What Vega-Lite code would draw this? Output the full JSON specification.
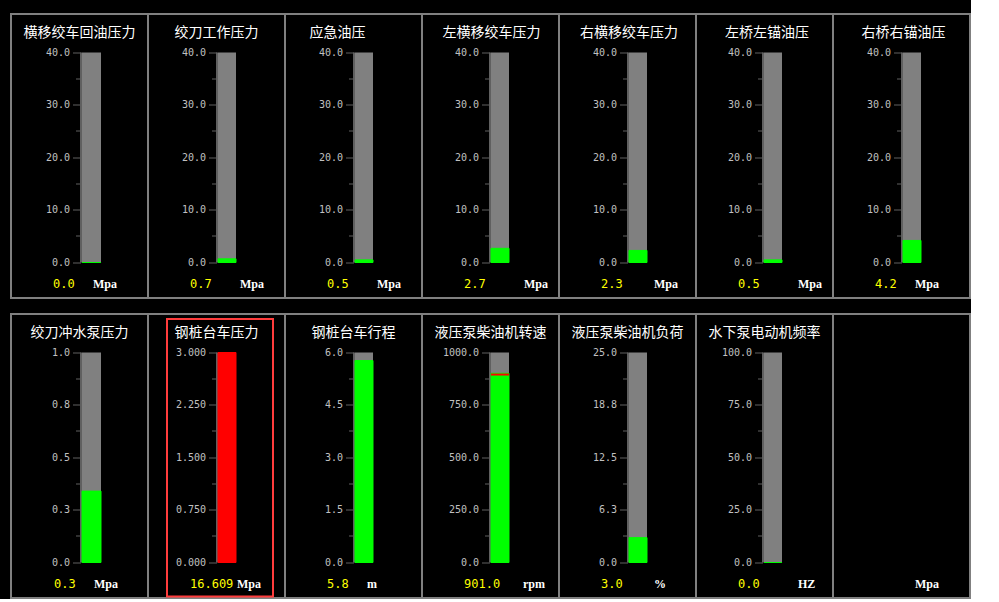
{
  "$schema": "https://vega.github.io/schema/vega-lite/v6.json",
  "background": "#000000",
  "padding": {"left": 10, "top": 13, "right": 0, "bottom": 0},
  "data": {"values": [
    {"name": "横移绞车回油压力", "value": 0.0, "max": 40, "unit": "Mpa"},
    {"name": "绞刀工作压力", "value": 0.7, "max": 40, "unit": "Mpa"},
    {"name": "应急油压", "value": 0.5, "max": 40, "unit": "Mpa"},
    {"name": "左横移绞车压力", "value": 2.7, "max": 40, "unit": "Mpa"},
    {"name": "右横移绞车压力", "value": 2.3, "max": 40, "unit": "Mpa"},
    {"name": "左桥左锚油压", "value": 0.5, "max": 40, "unit": "Mpa"},
    {"name": "右桥右锚油压", "value": 4.2, "max": 40, "unit": "Mpa"},
    {"name": "绞刀冲水泵压力", "value": 0.34, "max": 1, "unit": "Mpa"},
    {"name": "钢桩台车压力", "value": 16.609, "max": 3, "unit": "Mpa"},
    {"name": "钢桩台车行程", "value": 5.77, "max": 6, "unit": "m"},
    {"name": "液压泵柴油机转速", "value": 901.0, "max": 1000, "unit": "rpm", "limit": 895},
    {"name": "液压泵柴油机负荷", "value": 2.96, "max": 25, "unit": "%"},
    {"name": "水下泵电动机频率", "value": 0.0, "max": 100, "unit": "HZ"},
    {"name": "备用", "unit": "Mpa"}
  ]},
  "columns": 7,
  "spacing": {"row": 16, "column": 0},
  "bounds": "flush",
  "concat": [
    {
      "width": 137, "height": 284,
      "title": {"text": "横移绞车回油压力", "dx": 0},
      "transform": [{"filter": {"field": "name", "equal": "横移绞车回油压力"}}],
      "resolve": {"scale": {"x": "independent", "y": "independent"}, "axis": {"x": "independent", "y": "independent"}},
      "layer": [
        {"mark": {"type": "bar", "color": "#808080"},
         "encoding": {
           "x": {"field": "name", "type": "nominal", "scale": {"range": [71, 90], "paddingInner": 0, "paddingOuter": 0}, "axis": null},
           "y": {"field": "max", "type": "quantitative", "scale": {"domain": [0, 40], "range": [248.5, 38.5], "nice": false}, "axis": {"orient": "left", "offset": -70, "values": [5, 15, 25, 35], "labels": false, "domain": false, "tickSize": 5, "title": null}}}},
        {"encoding": {"x": {"field": "name", "type": "nominal", "scale": {"range": [71, 90], "paddingInner": 0, "paddingOuter": 0}, "axis": null}},
         "layer": [
           {"mark": {"type": "bar", "strokeWidth": 1},
            "encoding": {
              "y": {"field": "value", "type": "quantitative", "scale": {"domain": [0, 40], "range": [248.5, 38.5], "clamp": true, "nice": false}, "axis": {"orient": "left", "offset": -70, "values": [0, 10, 20, 30, 40], "format": ".1f", "title": null}},
              "color": {"condition": {"test": "datum.value > datum.max", "value": "#ff0000"}, "value": "#00ff00"},
              "stroke": {"condition": {"test": "datum.value > datum.max", "value": "#ff0000"}, "value": "#00ff00"}}},
           {"mark": {"type": "text", "align": "left", "baseline": "middle", "color": "#ffff00", "dx": -38.5, "dy": 21},
            "encoding": {"y": {"datum": 0}, "text": {"field": "value", "type": "quantitative", "format": ".1f"}}},
           {"mark": {"type": "text", "align": "left", "baseline": "middle", "color": "#ffffff", "font": "Liberation Serif", "fontSize": 12, "fontWeight": "bold", "dx": 1.5, "dy": 21},
            "encoding": {"y": {"datum": 0}, "text": {"field": "unit"}}}
         ]}
      ]
    },
    {
      "width": 137, "height": 284,
      "title": {"text": "绞刀工作压力", "dx": 0},
      "transform": [{"filter": {"field": "name", "equal": "绞刀工作压力"}}],
      "resolve": {"scale": {"x": "independent", "y": "independent"}, "axis": {"x": "independent", "y": "independent"}},
      "layer": [
        {"mark": {"type": "bar", "color": "#808080"},
         "encoding": {
           "x": {"field": "name", "type": "nominal", "scale": {"range": [70, 88], "paddingInner": 0, "paddingOuter": 0}, "axis": null},
           "y": {"field": "max", "type": "quantitative", "scale": {"domain": [0, 40], "range": [248.5, 38.5], "nice": false}, "axis": {"orient": "left", "offset": -69, "values": [5, 15, 25, 35], "labels": false, "domain": false, "tickSize": 5, "title": null}}}},
        {"encoding": {"x": {"field": "name", "type": "nominal", "scale": {"range": [70, 88], "paddingInner": 0, "paddingOuter": 0}, "axis": null}},
         "layer": [
           {"mark": {"type": "bar", "strokeWidth": 1},
            "encoding": {
              "y": {"field": "value", "type": "quantitative", "scale": {"domain": [0, 40], "range": [248.5, 38.5], "clamp": true, "nice": false}, "axis": {"orient": "left", "offset": -69, "values": [0, 10, 20, 30, 40], "format": ".1f", "title": null}},
              "color": {"condition": {"test": "datum.value > datum.max", "value": "#ff0000"}, "value": "#00ff00"},
              "stroke": {"condition": {"test": "datum.value > datum.max", "value": "#ff0000"}, "value": "#00ff00"}}},
           {"mark": {"type": "text", "align": "left", "baseline": "middle", "color": "#ffff00", "dx": -37, "dy": 21},
            "encoding": {"y": {"datum": 0}, "text": {"field": "value", "type": "quantitative", "format": ".1f"}}},
           {"mark": {"type": "text", "align": "left", "baseline": "middle", "color": "#ffffff", "font": "Liberation Serif", "fontSize": 12, "fontWeight": "bold", "dx": 13, "dy": 21},
            "encoding": {"y": {"datum": 0}, "text": {"field": "unit"}}}
         ]}
      ]
    },
    {
      "width": 137, "height": 284,
      "title": {"text": "应急油压", "dx": -16},
      "transform": [{"filter": {"field": "name", "equal": "应急油压"}}],
      "resolve": {"scale": {"x": "independent", "y": "independent"}, "axis": {"x": "independent", "y": "independent"}},
      "layer": [
        {"mark": {"type": "bar", "color": "#808080"},
         "encoding": {
           "x": {"field": "name", "type": "nominal", "scale": {"range": [70, 88], "paddingInner": 0, "paddingOuter": 0}, "axis": null},
           "y": {"field": "max", "type": "quantitative", "scale": {"domain": [0, 40], "range": [248.5, 38.5], "nice": false}, "axis": {"orient": "left", "offset": -69, "values": [5, 15, 25, 35], "labels": false, "domain": false, "tickSize": 5, "title": null}}}},
        {"encoding": {"x": {"field": "name", "type": "nominal", "scale": {"range": [70, 88], "paddingInner": 0, "paddingOuter": 0}, "axis": null}},
         "layer": [
           {"mark": {"type": "bar", "strokeWidth": 1},
            "encoding": {
              "y": {"field": "value", "type": "quantitative", "scale": {"domain": [0, 40], "range": [248.5, 38.5], "clamp": true, "nice": false}, "axis": {"orient": "left", "offset": -69, "values": [0, 10, 20, 30, 40], "format": ".1f", "title": null}},
              "color": {"condition": {"test": "datum.value > datum.max", "value": "#ff0000"}, "value": "#00ff00"},
              "stroke": {"condition": {"test": "datum.value > datum.max", "value": "#ff0000"}, "value": "#00ff00"}}},
           {"mark": {"type": "text", "align": "left", "baseline": "middle", "color": "#ffff00", "dx": -37, "dy": 21},
            "encoding": {"y": {"datum": 0}, "text": {"field": "value", "type": "quantitative", "format": ".1f"}}},
           {"mark": {"type": "text", "align": "left", "baseline": "middle", "color": "#ffffff", "font": "Liberation Serif", "fontSize": 12, "fontWeight": "bold", "dx": 13, "dy": 21},
            "encoding": {"y": {"datum": 0}, "text": {"field": "unit"}}}
         ]}
      ]
    },
    {
      "width": 137, "height": 284,
      "title": {"text": "左横移绞车压力", "dx": 1},
      "transform": [{"filter": {"field": "name", "equal": "左横移绞车压力"}}],
      "resolve": {"scale": {"x": "independent", "y": "independent"}, "axis": {"x": "independent", "y": "independent"}},
      "layer": [
        {"mark": {"type": "bar", "color": "#808080"},
         "encoding": {
           "x": {"field": "name", "type": "nominal", "scale": {"range": [69, 87], "paddingInner": 0, "paddingOuter": 0}, "axis": null},
           "y": {"field": "max", "type": "quantitative", "scale": {"domain": [0, 40], "range": [248.5, 38.5], "nice": false}, "axis": {"orient": "left", "offset": -68, "values": [5, 15, 25, 35], "labels": false, "domain": false, "tickSize": 5, "title": null}}}},
        {"encoding": {"x": {"field": "name", "type": "nominal", "scale": {"range": [69, 87], "paddingInner": 0, "paddingOuter": 0}, "axis": null}},
         "layer": [
           {"mark": {"type": "bar", "strokeWidth": 1},
            "encoding": {
              "y": {"field": "value", "type": "quantitative", "scale": {"domain": [0, 40], "range": [248.5, 38.5], "clamp": true, "nice": false}, "axis": {"orient": "left", "offset": -68, "values": [0, 10, 20, 30, 40], "format": ".1f", "title": null}},
              "color": {"condition": {"test": "datum.value > datum.max", "value": "#ff0000"}, "value": "#00ff00"},
              "stroke": {"condition": {"test": "datum.value > datum.max", "value": "#ff0000"}, "value": "#00ff00"}}},
           {"mark": {"type": "text", "align": "left", "baseline": "middle", "color": "#ffff00", "dx": -36, "dy": 21},
            "encoding": {"y": {"datum": 0}, "text": {"field": "value", "type": "quantitative", "format": ".1f"}}},
           {"mark": {"type": "text", "align": "left", "baseline": "middle", "color": "#ffffff", "font": "Liberation Serif", "fontSize": 12, "fontWeight": "bold", "dx": 24, "dy": 21},
            "encoding": {"y": {"datum": 0}, "text": {"field": "unit"}}}
         ]}
      ]
    },
    {
      "width": 137, "height": 284,
      "title": {"text": "右横移绞车压力", "dx": 1.5},
      "transform": [{"filter": {"field": "name", "equal": "右横移绞车压力"}}],
      "resolve": {"scale": {"x": "independent", "y": "independent"}, "axis": {"x": "independent", "y": "independent"}},
      "layer": [
        {"mark": {"type": "bar", "color": "#808080"},
         "encoding": {
           "x": {"field": "name", "type": "nominal", "scale": {"range": [70, 88], "paddingInner": 0, "paddingOuter": 0}, "axis": null},
           "y": {"field": "max", "type": "quantitative", "scale": {"domain": [0, 40], "range": [248.5, 38.5], "nice": false}, "axis": {"orient": "left", "offset": -69, "values": [5, 15, 25, 35], "labels": false, "domain": false, "tickSize": 5, "title": null}}}},
        {"encoding": {"x": {"field": "name", "type": "nominal", "scale": {"range": [70, 88], "paddingInner": 0, "paddingOuter": 0}, "axis": null}},
         "layer": [
           {"mark": {"type": "bar", "strokeWidth": 1},
            "encoding": {
              "y": {"field": "value", "type": "quantitative", "scale": {"domain": [0, 40], "range": [248.5, 38.5], "clamp": true, "nice": false}, "axis": {"orient": "left", "offset": -69, "values": [0, 10, 20, 30, 40], "format": ".1f", "title": null}},
              "color": {"condition": {"test": "datum.value > datum.max", "value": "#ff0000"}, "value": "#00ff00"},
              "stroke": {"condition": {"test": "datum.value > datum.max", "value": "#ff0000"}, "value": "#00ff00"}}},
           {"mark": {"type": "text", "align": "left", "baseline": "middle", "color": "#ffff00", "dx": -37, "dy": 21},
            "encoding": {"y": {"datum": 0}, "text": {"field": "value", "type": "quantitative", "format": ".1f"}}},
           {"mark": {"type": "text", "align": "left", "baseline": "middle", "color": "#ffffff", "font": "Liberation Serif", "fontSize": 12, "fontWeight": "bold", "dx": 16, "dy": 21},
            "encoding": {"y": {"datum": 0}, "text": {"field": "unit"}}}
         ]}
      ]
    },
    {
      "width": 137, "height": 284,
      "title": {"text": "左桥左锚油压", "dx": 2.5},
      "transform": [{"filter": {"field": "name", "equal": "左桥左锚油压"}}],
      "resolve": {"scale": {"x": "independent", "y": "independent"}, "axis": {"x": "independent", "y": "independent"}},
      "layer": [
        {"mark": {"type": "bar", "color": "#808080"},
         "encoding": {
           "x": {"field": "name", "type": "nominal", "scale": {"range": [68, 86], "paddingInner": 0, "paddingOuter": 0}, "axis": null},
           "y": {"field": "max", "type": "quantitative", "scale": {"domain": [0, 40], "range": [248.5, 38.5], "nice": false}, "axis": {"orient": "left", "offset": -67, "values": [5, 15, 25, 35], "labels": false, "domain": false, "tickSize": 5, "title": null}}}},
        {"encoding": {"x": {"field": "name", "type": "nominal", "scale": {"range": [68, 86], "paddingInner": 0, "paddingOuter": 0}, "axis": null}},
         "layer": [
           {"mark": {"type": "bar", "strokeWidth": 1},
            "encoding": {
              "y": {"field": "value", "type": "quantitative", "scale": {"domain": [0, 40], "range": [248.5, 38.5], "clamp": true, "nice": false}, "axis": {"orient": "left", "offset": -67, "values": [0, 10, 20, 30, 40], "format": ".1f", "title": null}},
              "color": {"condition": {"test": "datum.value > datum.max", "value": "#ff0000"}, "value": "#00ff00"},
              "stroke": {"condition": {"test": "datum.value > datum.max", "value": "#ff0000"}, "value": "#00ff00"}}},
           {"mark": {"type": "text", "align": "left", "baseline": "middle", "color": "#ffff00", "dx": -35, "dy": 21},
            "encoding": {"y": {"datum": 0}, "text": {"field": "value", "type": "quantitative", "format": ".1f"}}},
           {"mark": {"type": "text", "align": "left", "baseline": "middle", "color": "#ffffff", "font": "Liberation Serif", "fontSize": 12, "fontWeight": "bold", "dx": 25, "dy": 21},
            "encoding": {"y": {"datum": 0}, "text": {"field": "unit"}}}
         ]}
      ]
    },
    {
      "width": 137, "height": 284,
      "title": {"text": "右桥右锚油压", "dx": 2},
      "transform": [{"filter": {"field": "name", "equal": "右桥右锚油压"}}],
      "resolve": {"scale": {"x": "independent", "y": "independent"}, "axis": {"x": "independent", "y": "independent"}},
      "layer": [
        {"mark": {"type": "bar", "color": "#808080"},
         "encoding": {
           "x": {"field": "name", "type": "nominal", "scale": {"range": [70, 88], "paddingInner": 0, "paddingOuter": 0}, "axis": null},
           "y": {"field": "max", "type": "quantitative", "scale": {"domain": [0, 40], "range": [248.5, 38.5], "nice": false}, "axis": {"orient": "left", "offset": -69, "values": [5, 15, 25, 35], "labels": false, "domain": false, "tickSize": 5, "title": null}}}},
        {"encoding": {"x": {"field": "name", "type": "nominal", "scale": {"range": [70, 88], "paddingInner": 0, "paddingOuter": 0}, "axis": null}},
         "layer": [
           {"mark": {"type": "bar", "strokeWidth": 1},
            "encoding": {
              "y": {"field": "value", "type": "quantitative", "scale": {"domain": [0, 40], "range": [248.5, 38.5], "clamp": true, "nice": false}, "axis": {"orient": "left", "offset": -69, "values": [0, 10, 20, 30, 40], "format": ".1f", "title": null}},
              "color": {"condition": {"test": "datum.value > datum.max", "value": "#ff0000"}, "value": "#00ff00"},
              "stroke": {"condition": {"test": "datum.value > datum.max", "value": "#ff0000"}, "value": "#00ff00"}}},
           {"mark": {"type": "text", "align": "left", "baseline": "middle", "color": "#ffff00", "dx": -37, "dy": 21},
            "encoding": {"y": {"datum": 0}, "text": {"field": "value", "type": "quantitative", "format": ".1f"}}},
           {"mark": {"type": "text", "align": "left", "baseline": "middle", "color": "#ffffff", "font": "Liberation Serif", "fontSize": 12, "fontWeight": "bold", "dx": 3, "dy": 21},
            "encoding": {"y": {"datum": 0}, "text": {"field": "unit"}}}
         ]}
      ]
    },
    {
      "width": 137, "height": 284,
      "title": {"text": "绞刀冲水泵压力", "dx": 0},
      "transform": [{"filter": {"field": "name", "equal": "绞刀冲水泵压力"}}],
      "resolve": {"scale": {"x": "independent", "y": "independent"}, "axis": {"x": "independent", "y": "independent"}},
      "layer": [
        {"mark": {"type": "bar", "color": "#808080"},
         "encoding": {
           "x": {"field": "name", "type": "nominal", "scale": {"range": [71, 90], "paddingInner": 0, "paddingOuter": 0}, "axis": null},
           "y": {"field": "max", "type": "quantitative", "scale": {"domain": [0, 1], "range": [248.5, 38.5], "nice": false}, "axis": {"orient": "left", "offset": -70, "values": [0.125, 0.375, 0.625, 0.875], "labels": false, "domain": false, "tickSize": 5, "title": null}}}},
        {"encoding": {"x": {"field": "name", "type": "nominal", "scale": {"range": [71, 90], "paddingInner": 0, "paddingOuter": 0}, "axis": null}},
         "layer": [
           {"mark": {"type": "bar", "strokeWidth": 1},
            "encoding": {
              "y": {"field": "value", "type": "quantitative", "scale": {"domain": [0, 1], "range": [248.5, 38.5], "clamp": true, "nice": false}, "axis": {"orient": "left", "offset": -70, "values": [0, 0.25, 0.5, 0.75, 1], "format": ".1f", "title": null}},
              "color": {"condition": {"test": "datum.value > datum.max", "value": "#ff0000"}, "value": "#00ff00"},
              "stroke": {"condition": {"test": "datum.value > datum.max", "value": "#ff0000"}, "value": "#00ff00"}}},
           {"mark": {"type": "text", "align": "left", "baseline": "middle", "color": "#ffff00", "dx": -37.5, "dy": 21},
            "encoding": {"y": {"datum": 0}, "text": {"field": "value", "type": "quantitative", "format": ".1f"}}},
           {"mark": {"type": "text", "align": "left", "baseline": "middle", "color": "#ffffff", "font": "Liberation Serif", "fontSize": 12, "fontWeight": "bold", "dx": 2.5, "dy": 21},
            "encoding": {"y": {"datum": 0}, "text": {"field": "unit"}}}
         ]}
      ]
    },
    {
      "width": 137, "height": 284,
      "title": {"text": "钢桩台车压力", "dx": 0},
      "transform": [{"filter": {"field": "name", "equal": "钢桩台车压力"}}],
      "resolve": {"scale": {"x": "independent", "y": "independent"}, "axis": {"x": "independent", "y": "independent"}},
      "layer": [
        {"mark": {"type": "bar", "color": "#808080"},
         "encoding": {
           "x": {"field": "name", "type": "nominal", "scale": {"range": [70, 88], "paddingInner": 0, "paddingOuter": 0}, "axis": null},
           "y": {"field": "max", "type": "quantitative", "scale": {"domain": [0, 3], "range": [248.5, 38.5], "nice": false}, "axis": {"orient": "left", "offset": -69, "values": [0.375, 1.125, 1.875, 2.625], "labels": false, "domain": false, "tickSize": 5, "title": null}}}},
        {"encoding": {"x": {"field": "name", "type": "nominal", "scale": {"range": [70, 88], "paddingInner": 0, "paddingOuter": 0}, "axis": null}},
         "layer": [
           {"mark": {"type": "bar", "strokeWidth": 1},
            "encoding": {
              "y": {"field": "value", "type": "quantitative", "scale": {"domain": [0, 3], "range": [248.5, 38.5], "clamp": true, "nice": false}, "axis": {"orient": "left", "offset": -69, "values": [0, 0.75, 1.5, 2.25, 3], "format": ".3f", "title": null}},
              "color": {"condition": {"test": "datum.value > datum.max", "value": "#ff0000"}, "value": "#00ff00"},
              "stroke": {"condition": {"test": "datum.value > datum.max", "value": "#ff0000"}, "value": "#00ff00"}}},
           {"mark": {"type": "text", "align": "left", "baseline": "middle", "color": "#ffff00", "dx": -37, "dy": 21},
            "encoding": {"y": {"datum": 0}, "text": {"field": "value", "type": "quantitative", "format": ".3f"}}},
           {"mark": {"type": "text", "align": "left", "baseline": "middle", "color": "#ffffff", "font": "Liberation Serif", "fontSize": 12, "fontWeight": "bold", "dx": 10, "dy": 21},
            "encoding": {"y": {"datum": 0}, "text": {"field": "unit"}}}
         ]},
        {"mark": {"type": "rect", "filled": false, "stroke": "#ff3c3c", "strokeWidth": 2},
         "encoding": {
           "x": {"datum": 0, "type": "quantitative", "scale": {"domain": [0, 1], "range": [19, 125], "nice": false}, "axis": null},
           "x2": {"datum": 1},
           "y": {"datum": 0, "type": "quantitative", "scale": {"domain": [0, 1], "range": [282.5, 5], "nice": false}, "axis": null},
           "y2": {"datum": 1}}}
      ]
    },
    {
      "width": 137, "height": 284,
      "title": {"text": "钢桩台车行程", "dx": 0},
      "transform": [{"filter": {"field": "name", "equal": "钢桩台车行程"}}],
      "resolve": {"scale": {"x": "independent", "y": "independent"}, "axis": {"x": "independent", "y": "independent"}},
      "layer": [
        {"mark": {"type": "bar", "color": "#808080"},
         "encoding": {
           "x": {"field": "name", "type": "nominal", "scale": {"range": [70, 88], "paddingInner": 0, "paddingOuter": 0}, "axis": null},
           "y": {"field": "max", "type": "quantitative", "scale": {"domain": [0, 6], "range": [248.5, 38.5], "nice": false}, "axis": {"orient": "left", "offset": -69, "values": [0.75, 2.25, 3.75, 5.25], "labels": false, "domain": false, "tickSize": 5, "title": null}}}},
        {"encoding": {"x": {"field": "name", "type": "nominal", "scale": {"range": [70, 88], "paddingInner": 0, "paddingOuter": 0}, "axis": null}},
         "layer": [
           {"mark": {"type": "bar", "strokeWidth": 1},
            "encoding": {
              "y": {"field": "value", "type": "quantitative", "scale": {"domain": [0, 6], "range": [248.5, 38.5], "clamp": true, "nice": false}, "axis": {"orient": "left", "offset": -69, "values": [0, 1.5, 3, 4.5, 6], "format": ".1f", "title": null}},
              "color": {"condition": {"test": "datum.value > datum.max", "value": "#ff0000"}, "value": "#00ff00"},
              "stroke": {"condition": {"test": "datum.value > datum.max", "value": "#ff0000"}, "value": "#00ff00"}}},
           {"mark": {"type": "text", "align": "left", "baseline": "middle", "color": "#ffff00", "dx": -37, "dy": 21},
            "encoding": {"y": {"datum": 0}, "text": {"field": "value", "type": "quantitative", "format": ".1f"}}},
           {"mark": {"type": "text", "align": "left", "baseline": "middle", "color": "#ffffff", "font": "Liberation Serif", "fontSize": 12, "fontWeight": "bold", "dx": 3, "dy": 21},
            "encoding": {"y": {"datum": 0}, "text": {"field": "unit"}}}
         ]}
      ]
    },
    {
      "width": 137, "height": 284,
      "title": {"text": "液压泵柴油机转速", "dx": 0},
      "transform": [{"filter": {"field": "name", "equal": "液压泵柴油机转速"}}],
      "resolve": {"scale": {"x": "independent", "y": "independent"}, "axis": {"x": "independent", "y": "independent"}},
      "layer": [
        {"mark": {"type": "bar", "color": "#808080"},
         "encoding": {
           "x": {"field": "name", "type": "nominal", "scale": {"range": [69, 87], "paddingInner": 0, "paddingOuter": 0}, "axis": null},
           "y": {"field": "max", "type": "quantitative", "scale": {"domain": [0, 1000], "range": [248.5, 38.5], "nice": false}, "axis": {"orient": "left", "offset": -68, "values": [125, 375, 625, 875], "labels": false, "domain": false, "tickSize": 5, "title": null}}}},
        {"encoding": {"x": {"field": "name", "type": "nominal", "scale": {"range": [69, 87], "paddingInner": 0, "paddingOuter": 0}, "axis": null}},
         "layer": [
           {"mark": {"type": "bar", "strokeWidth": 1},
            "encoding": {
              "y": {"field": "value", "type": "quantitative", "scale": {"domain": [0, 1000], "range": [248.5, 38.5], "clamp": true, "nice": false}, "axis": {"orient": "left", "offset": -68, "values": [0, 250, 500, 750, 1000], "format": ".1f", "title": null}},
              "color": {"condition": {"test": "datum.value > datum.max", "value": "#ff0000"}, "value": "#00ff00"},
              "stroke": {"condition": {"test": "datum.value > datum.max", "value": "#ff0000"}, "value": "#00ff00"}}},
           {"mark": {"type": "tick", "color": "#ff0000", "opacity": 1, "thickness": 2, "size": 18, "orient": "horizontal"},
            "encoding": {"y": {"field": "limit", "type": "quantitative"}}},
           {"mark": {"type": "text", "align": "left", "baseline": "middle", "color": "#ffff00", "dx": -36, "dy": 21},
            "encoding": {"y": {"datum": 0}, "text": {"field": "value", "type": "quantitative", "format": ".1f"}}},
           {"mark": {"type": "text", "align": "left", "baseline": "middle", "color": "#ffffff", "font": "Liberation Serif", "fontSize": 12, "fontWeight": "bold", "dx": 23, "dy": 21},
            "encoding": {"y": {"datum": 0}, "text": {"field": "unit"}}}
         ]}
      ]
    },
    {
      "width": 137, "height": 284,
      "title": {"text": "液压泵柴油机负荷", "dx": 0},
      "transform": [{"filter": {"field": "name", "equal": "液压泵柴油机负荷"}}],
      "resolve": {"scale": {"x": "independent", "y": "independent"}, "axis": {"x": "independent", "y": "independent"}},
      "layer": [
        {"mark": {"type": "bar", "color": "#808080"},
         "encoding": {
           "x": {"field": "name", "type": "nominal", "scale": {"range": [70, 88], "paddingInner": 0, "paddingOuter": 0}, "axis": null},
           "y": {"field": "max", "type": "quantitative", "scale": {"domain": [0, 25], "range": [248.5, 38.5], "nice": false}, "axis": {"orient": "left", "offset": -69, "values": [3.125, 9.375, 15.625, 21.875], "labels": false, "domain": false, "tickSize": 5, "title": null}}}},
        {"encoding": {"x": {"field": "name", "type": "nominal", "scale": {"range": [70, 88], "paddingInner": 0, "paddingOuter": 0}, "axis": null}},
         "layer": [
           {"mark": {"type": "bar", "strokeWidth": 1},
            "encoding": {
              "y": {"field": "value", "type": "quantitative", "scale": {"domain": [0, 25], "range": [248.5, 38.5], "clamp": true, "nice": false}, "axis": {"orient": "left", "offset": -69, "values": [0, 6.25, 12.5, 18.75, 25], "format": ".1f", "title": null}},
              "color": {"condition": {"test": "datum.value > datum.max", "value": "#ff0000"}, "value": "#00ff00"},
              "stroke": {"condition": {"test": "datum.value > datum.max", "value": "#ff0000"}, "value": "#00ff00"}}},
           {"mark": {"type": "text", "align": "left", "baseline": "middle", "color": "#ffff00", "dx": -37, "dy": 21},
            "encoding": {"y": {"datum": 0}, "text": {"field": "value", "type": "quantitative", "format": ".1f"}}},
           {"mark": {"type": "text", "align": "left", "baseline": "middle", "color": "#ffffff", "font": "Liberation Serif", "fontSize": 12, "fontWeight": "bold", "dx": 16, "dy": 21},
            "encoding": {"y": {"datum": 0}, "text": {"field": "unit"}}}
         ]}
      ]
    },
    {
      "width": 137, "height": 284,
      "title": {"text": "水下泵电动机频率", "dx": 0},
      "transform": [{"filter": {"field": "name", "equal": "水下泵电动机频率"}}],
      "resolve": {"scale": {"x": "independent", "y": "independent"}, "axis": {"x": "independent", "y": "independent"}},
      "layer": [
        {"mark": {"type": "bar", "color": "#808080"},
         "encoding": {
           "x": {"field": "name", "type": "nominal", "scale": {"range": [68, 86], "paddingInner": 0, "paddingOuter": 0}, "axis": null},
           "y": {"field": "max", "type": "quantitative", "scale": {"domain": [0, 100], "range": [248.5, 38.5], "nice": false}, "axis": {"orient": "left", "offset": -67, "values": [12.5, 37.5, 62.5, 87.5], "labels": false, "domain": false, "tickSize": 5, "title": null}}}},
        {"encoding": {"x": {"field": "name", "type": "nominal", "scale": {"range": [68, 86], "paddingInner": 0, "paddingOuter": 0}, "axis": null}},
         "layer": [
           {"mark": {"type": "bar", "strokeWidth": 1},
            "encoding": {
              "y": {"field": "value", "type": "quantitative", "scale": {"domain": [0, 100], "range": [248.5, 38.5], "clamp": true, "nice": false}, "axis": {"orient": "left", "offset": -67, "values": [0, 25, 50, 75, 100], "format": ".1f", "title": null}},
              "color": {"condition": {"test": "datum.value > datum.max", "value": "#ff0000"}, "value": "#00ff00"},
              "stroke": {"condition": {"test": "datum.value > datum.max", "value": "#ff0000"}, "value": "#00ff00"}}},
           {"mark": {"type": "text", "align": "left", "baseline": "middle", "color": "#ffff00", "dx": -35, "dy": 21},
            "encoding": {"y": {"datum": 0}, "text": {"field": "value", "type": "quantitative", "format": ".1f"}}},
           {"mark": {"type": "text", "align": "left", "baseline": "middle", "color": "#ffffff", "font": "Liberation Serif", "fontSize": 12, "fontWeight": "bold", "dx": 25, "dy": 21},
            "encoding": {"y": {"datum": 0}, "text": {"field": "unit"}}}
         ]}
      ]
    },
    {
      "width": 137, "height": 284,
      "transform": [{"filter": {"field": "name", "equal": "备用"}}],
      "mark": {"type": "text", "align": "left", "baseline": "middle", "color": "#ffffff", "font": "Liberation Serif", "fontSize": 12, "fontWeight": "bold", "dx": 3, "dy": 21},
      "encoding": {
        "x": {"field": "name", "type": "nominal", "scale": {"range": [70, 88], "paddingInner": 0, "paddingOuter": 0}, "axis": null},
        "y": {"datum": 0, "type": "quantitative", "scale": {"domain": [0, 1], "range": [248.5, 38.5], "nice": false}, "axis": null},
        "text": {"field": "unit", "type": "nominal"}
      }
    }
  ],
  "config": {
    "view": {"stroke": "#808080", "strokeWidth": 2, "fill": "#000000"},
    "axis": {"labelFont": "DejaVu Sans Mono", "labelFontSize": 10, "labelColor": "#c0c0c0", "domainColor": "#606060", "domainWidth": 2, "tickColor": "#606060", "tickWidth": 1, "tickSize": 8, "labelPadding": 3, "grid": false, "translate": 0, "labelFlush": false, "labelOverlap": false},
    "title": {"color": "#ffffff", "fontSize": 14, "font": "Noto Sans CJK SC", "fontWeight": "normal", "anchor": "middle", "baseline": "middle", "offset": -26, "frame": "group"},
    "text": {"font": "DejaVu Sans Mono", "fontSize": 12}
  }
}
